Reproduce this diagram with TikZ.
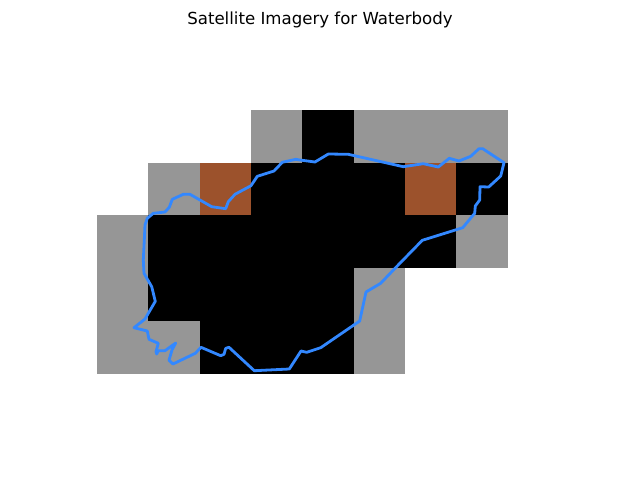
\documentclass[tikz,border=0pt]{standalone}
\usepackage{fontspec}
\setmainfont{DejaVu Sans}
\usepackage{xcolor}
\usetikzlibrary{positioning}
\definecolor{cellgray}{HTML}{969696}
\definecolor{cellbrown}{HTML}{9C522C}
\definecolor{outlineblue}{HTML}{3388FF}
\tikzstyle{graycell} = [fill=cellgray]
\tikzstyle{browncell} = [fill=cellbrown]
\tikzstyle{blackcell} = [fill=black]
\tikzstyle{outline} = [draw=outlineblue, line width=2.8pt, line join=round, line cap=round]
\tikzstyle{title} = [font=\fontsize{16.6pt}{20pt}\selectfont, text=black, anchor=base]
\begin{document}
\begin{tikzpicture}[x=1pt, y=-1pt]
        \useasboundingbox (0,0) rectangle (640,480);
        % Title
        \node (title) [title] at (320,24) {Satellite Imagery for Waterbody};
        % Grid cells
        \foreach \xa/\ya/\xb/\yb in {251/110/302/163, 354/110/508/163, 148/163/200/215, 97/215/148/374, 148/321/200/374, 456/215/508/268, 354/268/405/374}
            \path [graycell] (\xa,\ya) rectangle (\xb,\yb);
        \foreach \xa/\ya/\xb/\yb in {302/110/354/163, 251/163/405/215, 456/163/508/215, 148/215/456/268, 148/268/354/321, 200/321/354/374}
            \path [blackcell] (\xa,\ya) rectangle (\xb,\yb);
        \foreach \xa/\ya/\xb/\yb in {200/163/251/215, 405/163/456/215}
            \path [browncell] (\xa,\ya) rectangle (\xb,\yb);
        % Waterbody boundary
        \draw [outline] (144.3,240) -- (145,225) -- (147.3,218.3) -- (153.3,213.3) -- (165,212) -- (169.3,207.3) -- (172.3,199.3) -- (183.3,194.3) -- (190,194.3) -- (211.7,206.7) -- (225.7,208.7) -- (228.3,201.7) -- (235,194.3) -- (251,185.7) -- (257.3,176.3) -- (274,171) -- (282.3,162.3) -- (295.7,159.3) -- (300,160) -- (315,162) -- (328.3,154) -- (348.3,154.3) -- (403.3,166.7) -- (423.3,163.7) -- (438.3,167) -- (449.3,158.3) -- (459,161) -- (470.7,156.3) -- (479,148.7) -- (482.7,148.7) -- (504,162.7) -- (500.7,176) -- (488.7,187) -- (480,186.7) -- (479.7,200) -- (475.3,206) -- (474.7,213.3) -- (462.7,227.7) -- (422.3,240.3) -- (395,268.3) -- (380.7,283.3) -- (366,292) -- (359.7,321) -- (320.7,347.7) -- (306.7,352.3) -- (301,351) -- (289.3,369) -- (254.3,370.7) -- (229,347.3) -- (225.7,348.3) -- (224,354.3) -- (220.7,355.7) -- (201,347.3) -- (195.3,353.3) -- (173,364) -- (169,360.3) -- (172,350) -- (175.7,343) -- (165,350.7) -- (158.3,350.7) -- (156.7,354) -- (156,351.7) -- (158.3,343.3) -- (149,339.3) -- (147.3,331) -- (134,327.7) -- (145,319) -- (155.3,301.3) -- (151.7,286.7) -- (144,273.3) -- (143.3,260) -- cycle;
    \end{tikzpicture}
\end{document}
